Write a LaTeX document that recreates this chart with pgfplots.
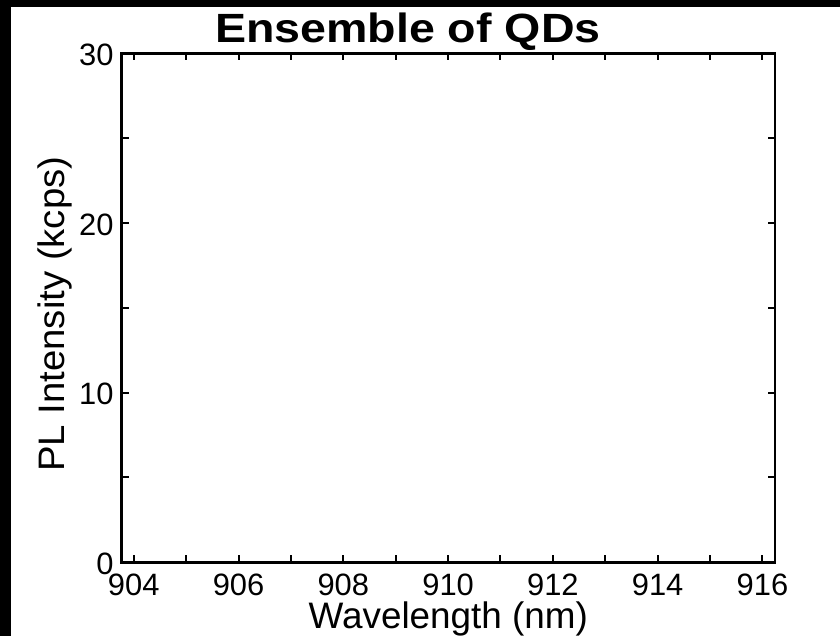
\documentclass[border=0pt]{standalone}
\usepackage{pgfplots}
\pgfplotsset{compat=1.18}
\usepackage{fontspec}
\setmainfont{Liberation Sans}
\begin{document}
\begin{tikzpicture}
\useasboundingbox (0,0) rectangle (840bp,636bp);
\fill[white] (0,0) rectangle (840bp,636bp);
\fill[black] (0,0) rectangle (11bp,636bp);
\fill[black] (0,629bp) rectangle (840bp,636bp);
\begin{axis}[
  at={(121.7bp,73.7bp)}, anchor=south west,
  scale only axis,
  width=653.3bp, height=509bp,
  xmin=903.77, xmax=916.24,
  ymin=0, ymax=30,
  xtick={904,906,908,910,912,914,916},
  minor xtick={905,907,909,911,913,915},
  ytick={0,10,20,30},
  minor ytick={5,15,25},
  tick align=inside,
  major tick length=7bp, minor tick length=7bp,
  tick style={black, line width=2bp},
  axis line style={black, line width=2.8bp},
  /pgf/number format/assume math mode=true,
  /pgf/number format/set thousands separator={},
  ticklabel style={font=\fontsize{31}{34}\selectfont, inner sep=0pt},
  xticklabel style={anchor=base, yshift=-32.7bp},
  yticklabel style={anchor=east, xshift=-8bp, yshift=-1.5bp},
  every axis title shift=0pt,
  title={\scalebox{1.14}[1]{\textbf{Ensemble of QDs}}},
  title style={at={(axis description cs:0.438,1)}, anchor=base, yshift=10.6bp, inner sep=0pt, font=\fontsize{41}{46}\selectfont},
  xlabel={Wavelength (nm)},
  xlabel style={at={(axis description cs:0.5,0)}, anchor=base, yshift=-66bp, inner sep=0pt, font=\fontsize{37}{40}\selectfont},
  ylabel={\scalebox{1.04}[1]{PL Intensity (kcps)}},
  ylabel style={at={(axis description cs:-0.0868,0.4874)}, anchor=base, inner sep=0pt, font=\fontsize{37}{40}\selectfont},
]
\end{axis}
\end{tikzpicture}
\end{document}
